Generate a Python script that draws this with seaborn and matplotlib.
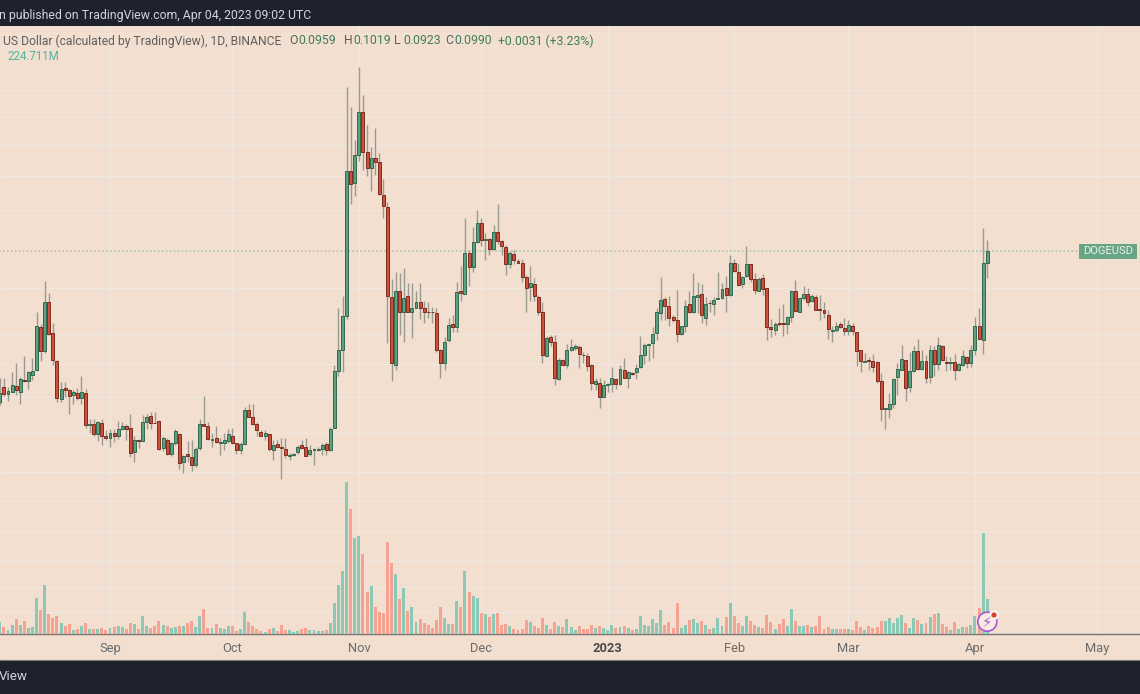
import numpy as np
import pandas as pd
import seaborn as sns
import matplotlib
matplotlib.use("Agg")
import matplotlib.pyplot as plt
import matplotlib.dates as mdates
from matplotlib.patches import Circle, FancyBboxPatch
from matplotlib.ticker import FixedLocator, NullFormatter, NullLocator

# ---- data (prices in units of 0.0001 DOGE/USD, volume in millions) ----
first_day = "2022-08-05"
opens = [
670,697,685,688,699,688,710,708,720,729,
813,766,868,801,746,676,695,692,683,687,
677,686,633,634,618,635,614,612,620,615,
625,630,627,590,608,607,637,647,636,638,
596,609,586,603,618,575,587,582,570,596,
634,631,609,611,603,604,606,614,603,592,
602,657,645,634,621,614,618,592,602,597,
594,584,585,590,600,597,586,593,593,594,
602,593,628,726,768,838,1216,1179,1267,1418,
1277,1227,1259,1244,1145,1109,879,738,894,846,
881,846,855,868,854,846,846,843,767,741,
787,820,814,892,887,986,949,1013,1065,1018,
1020,996,1040,1015,1001,957,983,965,961,927,
903,909,880,846,756,793,782,712,747,737,
768,771,772,758,755,737,702,705,680,700,
702,711,702,728,714,723,724,735,757,777,
781,801,843,875,859,835,828,799,815,863,
845,880,886,832,866,864,875,878,901,883,
960,938,910,929,957,920,893,924,899,813,
808,823,822,821,835,894,847,876,885,871,
880,853,851,840,806,807,821,812,806,817,
804,767,743,747,746,744,709,658,658,668,
715,728,747,698,726,765,730,746,715,768,
739,775,744,742,743,729,737,753,742,768,
817,788,959]
closes = [
686,685,690,700,691,712,708,725,727,816,
766,868,799,748,678,694,692,682,688,678,
688,632,634,617,637,615,612,620,615,625,
631,625,588,609,607,637,646,636,635,594,
611,586,604,622,573,584,583,570,595,634,
631,610,610,605,605,608,617,603,592,602,
657,646,634,624,615,620,594,600,597,596,
585,585,587,598,596,584,593,594,595,601,
592,626,726,768,838,1216,1176,1267,1418,1278,
1227,1259,1246,1146,1111,882,741,893,847,876,
847,854,869,855,846,845,845,768,741,782,
819,813,890,888,984,950,1013,1065,1019,1021,
996,1040,1015,1003,957,984,967,961,927,900,
911,882,847,758,791,782,713,748,738,768,
773,774,760,757,736,704,708,680,700,703,
713,703,730,714,724,721,732,757,777,778,
800,846,872,859,832,828,799,815,860,845,
882,883,840,863,865,872,878,898,883,960,
941,908,927,957,920,896,922,898,813,809,
821,821,820,835,893,848,877,885,869,881,
851,851,843,809,808,817,813,806,818,806,
766,746,746,746,735,709,658,660,667,711,
730,749,696,726,765,730,746,714,768,739,
776,747,742,744,729,739,755,742,768,817,
790,959,990]
highs = [
713,713,698,725,742,715,755,726,751,847,
820,916,889,822,748,707,707,693,691,695,
718,694,642,642,639,642,624,625,625,639,
637,634,650,615,610,648,650,653,653,640,
615,611,605,625,619,585,607,608,598,642,
681,637,619,631,611,619,625,627,604,605,
662,667,667,637,624,624,620,608,608,611,
611,588,588,600,609,611,600,596,598,604,
605,629,738,854,882,1510,1436,1318,1590,1480,
1370,1293,1358,1275,1191,1124,922,937,935,947,
912,911,893,911,871,869,858,855,769,794,
834,840,915,953,1078,993,1054,1100,1078,1036,
1023,1058,1117,1019,1006,989,993,969,969,931,
953,923,884,868,795,797,797,751,749,778,
789,778,777,764,761,739,713,713,710,704,
735,713,737,751,726,724,739,796,780,781,
814,854,925,880,881,840,895,816,872,892,
935,915,909,880,873,880,937,911,928,980,
971,961,928,1002,958,935,927,933,900,831,
825,855,864,837,895,919,880,905,899,886,
884,884,867,850,817,825,824,832,829,822,
804,768,761,753,760,746,723,660,686,713,
742,777,748,764,775,790,768,757,777,775,
793,777,755,753,760,741,768,755,776,835,
854,1050,1019]
lows = [
665,681,673,688,683,667,707,694,710,726,
746,761,797,737,671,671,680,650,667,674,
668,628,619,615,607,600,608,597,605,610,
624,608,582,575,596,606,625,625,635,592,
591,585,583,600,565,558,575,561,568,592,
630,608,598,604,585,592,604,602,587,587,
600,645,632,614,614,608,591,577,596,550,
581,578,584,587,595,583,583,570,591,585,
585,591,627,717,724,830,1117,1140,1247,1220,
1202,1156,1204,1143,1077,780,708,729,797,783,
846,792,854,831,823,834,822,764,713,729,
783,804,804,871,886,905,937,1010,1003,967,
980,993,1008,980,931,947,957,960,915,847,
871,871,840,741,754,774,700,710,737,733,
766,767,733,742,726,692,692,660,679,689,
689,693,701,713,695,720,711,733,739,745,
751,787,829,829,816,825,782,798,804,843,
843,843,822,819,847,840,875,875,847,881,
939,905,901,927,915,886,892,884,788,794,
797,817,795,800,825,845,846,873,859,869,
850,829,832,790,783,804,812,797,797,797,
736,724,743,729,724,704,638,625,643,660,
683,728,672,688,724,729,729,704,704,717,
728,745,726,729,710,726,736,733,735,757,
787,760,923]
volumes = [
75,47,26,58,94,60,81,39,45,229,
154,315,128,105,118,68,51,62,26,32,
54,68,32,32,34,36,28,41,45,51,
47,32,68,64,32,116,51,39,51,83,
58,54,39,43,51,54,68,86,47,118,
158,41,39,66,41,34,51,51,19,32,
141,75,54,32,19,13,30,36,19,58,
26,26,15,19,34,39,26,24,17,17,
24,73,197,315,404,974,800,618,631,514,
270,308,171,143,133,593,454,383,225,295,
148,175,75,96,68,56,36,88,175,101,
66,62,210,175,404,270,246,229,135,128,
109,128,135,60,66,51,30,24,32,90,
75,51,41,105,60,32,75,51,45,96,
47,24,51,32,34,60,39,54,41,28,
60,39,45,54,39,26,32,116,58,54,
98,71,154,58,77,39,197,41,60,90,
94,71,83,58,32,39,101,51,109,199,
118,73,51,118,83,60,45,41,122,77,
32,64,94,51,158,81,54,54,58,47,
51,118,34,43,32,32,32,32,30,24,
81,47,26,54,41,43,81,83,105,68,
105,122,71,41,101,90,64,68,111,128,
137,66,45,28,79,34,45,47,60,118,
165,651,225]
grid_prices = [0.15,0.14,0.13,0.12,0.11,0.09,0.08,0.074,0.068,0.062,0.056,0.052,0.048,0.0445,0.0416,0.039]
month_ticks = ["2022-09-01","2022-10-01","2022-11-01","2022-12-01","2023-01-01","2023-02-01","2023-03-01","2023-04-01","2023-05-01"]
month_labels = ["Sep","Oct","Nov","Dec","2023","Feb","Mar","Apr","May"]
last_close = 0.0990

BG = "#f2dfcf"; DARK = "#1e222d"; GRID = "#efe8e0"
UP = "#5f9f80"; UP_EDGE = "#2f6a50"; DOWN = "#cf4f3b"; DOWN_EDGE = "#7c2c20"
WICK = "#9b9a90"; VOL_UP = "#8cc8b6"; VOL_DOWN = "#f6a293"
FONT = ["Roboto", "DejaVu Sans"]
W, H = 1140, 694

sns.set_theme(style="white")
plt.rcParams["font.family"] = FONT

df = pd.DataFrame({"date": pd.date_range(first_day, periods=len(opens)),
                   "open": np.array(opens)/1e4, "close": np.array(closes)/1e4,
                   "high": np.array(highs)/1e4, "low": np.array(lows)/1e4,
                   "volume": volumes})
df["x"] = mdates.date2num(df["date"])
df["dir"] = np.where(df["close"] >= df["open"], "up", "down")

fig = plt.figure(figsize=(W/100, H/100), dpi=100, facecolor=DARK)

# strip below the plot, holding the month labels
strip = fig.add_axes([0, (H-660)/H, 1, 26/H], zorder=-1, facecolor=BG)
strip.set_xticks([]); strip.set_yticks([])
for s in strip.spines.values():
    s.set_visible(False)
fig.add_artist(plt.Line2D([0, 1], [(H-660)/H]*2, color="#777777", lw=0.8))

ax = fig.add_axes([0, (H-634)/H, 1, 608/H], facecolor=BG)
ax.set_yscale("log")
sep1 = mdates.date2num(pd.Timestamp("2022-09-01"))
ax.set_xlim(sep1 - 110/4.08, sep1 + (W-110)/4.08)
ax.set_ylim(0.03689, 0.1768)
ax.yaxis.set_major_locator(FixedLocator(grid_prices))
ax.yaxis.set_minor_locator(NullLocator())
ax.yaxis.set_major_formatter(NullFormatter())
ax.tick_params(axis="x", length=0, pad=6)
ax.tick_params(axis="y", length=0)
ax.grid(True, color=GRID, lw=1.0, zorder=0)
ax.set_axisbelow(True)
for name, s in ax.spines.items():
    s.set_visible(name == "bottom")
ax.spines["bottom"].set_color("#757575")
ax.spines["bottom"].set_linewidth(1.0)

# price line, stopping at the tag
ax.plot([df["x"].iloc[0] - 1, sep1 + (1080-110)/4.08], [last_close, last_close],
        color="#a3c2a6", lw=1.1, ls=(0, (1, 1.6)), zorder=1)

# candles
ax.vlines(df["x"], df["low"], df["high"], color=WICK, lw=1.0, zorder=2)
for d, c, e in (("up", UP, UP_EDGE), ("down", DOWN, DOWN_EDGE)):
    sub = df[df["dir"] == d]
    ax.bar(sub["x"], (sub["close"]-sub["open"]).abs(), bottom=sub[["open","close"]].min(axis=1),
           width=0.72, color=c, edgecolor=e, linewidth=0.7, zorder=3)

# volume, through seaborn, on a linear twin axis
axv = ax.twinx()
sns.barplot(data=df, x="x", y="volume", hue="dir", hue_order=["up", "down"],
            palette={"up": VOL_UP, "down": VOL_DOWN}, native_scale=True, dodge=False,
            width=0.72, saturation=1, legend=False, ax=axv, zorder=2,
            linewidth=0, edgecolor="none")
axv.set_xlim(ax.get_xlim())
axv.set_ylim(0, 608*6.42)
axv.set_ylabel(""); axv.set_xlabel("")
axv.set_yticks([])
axv.grid(False)
for s in axv.spines.values():
    s.set_visible(False)

ax.set_xticks(mdates.date2num(pd.to_datetime(month_ticks)))
ax.set_xticklabels(month_labels, color="#6a6a6a", fontsize=9.3)
ax.get_xticklabels()[4].set_fontweight("bold")
ax.get_xticklabels()[4].set_color("#4a4a4a")
ax.set_xlabel("")

# ---- text placed in pixel coordinates of the figure ----
def ptext(x, y, s, **kw):
    return fig.text(x/W, 1-y/H, s, va="center", **kw)

ptext(-1, 15, "n published on TradingView.com, Apr 04, 2023 09:02 UTC", color="#d1d4dc", fontsize=8.85, ha="left")
ptext(-1, 677, "View", color="#d1d4dc", fontsize=9.6, ha="left")

GREY = "#5f5f5f"; VAL = "#3f7d60"
ptext(3, 41, "US Dollar (calculated by TradingView), 1D, BINANCE", color=GREY, fontsize=8.7, ha="left")
for x, lab, val in ((289, "O", "0.0959"), (344, "H", "0.1019"), (394, "L", "0.0923"), (445, "C", "0.0990")):
    ptext(x, 41, lab, color=GREY, fontsize=8.85, ha="left")
    ptext(x+9, 41, val, color=VAL, fontsize=8.85, ha="left")
ptext(498, 41, "+0.0031 (+3.23%)", color=VAL, fontsize=8.85, ha="left")
ptext(7, 57, "224.711M", color="#4fb6a0", fontsize=8.3, ha="left")

# DOGEUSD tag
fig.add_artist(FancyBboxPatch((1079/W, 1-259/H), 58/W, 15/H, transform=fig.transFigure,
                              boxstyle="square,pad=0", fc="#68a585", ec="none"))
ptext(1108, 251.5, "DOGEUSD", color="#eef3ee", fontsize=8.0, ha="center")

# news marker on the volume pane
pix = fig.dpi_scale_trans
fig.add_artist(Circle((987.3/100, (H-621.7)/100), 0.095, transform=pix, fc="#f6ece4", ec="#ab55d2", lw=1.2, zorder=5))
fig.add_artist(Circle((994/100, (H-615)/100), 0.05, transform=pix, fc="#f9f3ee", ec="none", zorder=6))
fig.add_artist(Circle((994/100, (H-615)/100), 0.026, transform=pix, fc="#e0402f", ec="none", zorder=7))
ptext(987, 622.5, "\u26a1", color="#ab55d2", fontsize=10.5, ha="center", family="DejaVu Sans", zorder=8)

fig.savefig("out.png", dpi=100, facecolor=DARK)
